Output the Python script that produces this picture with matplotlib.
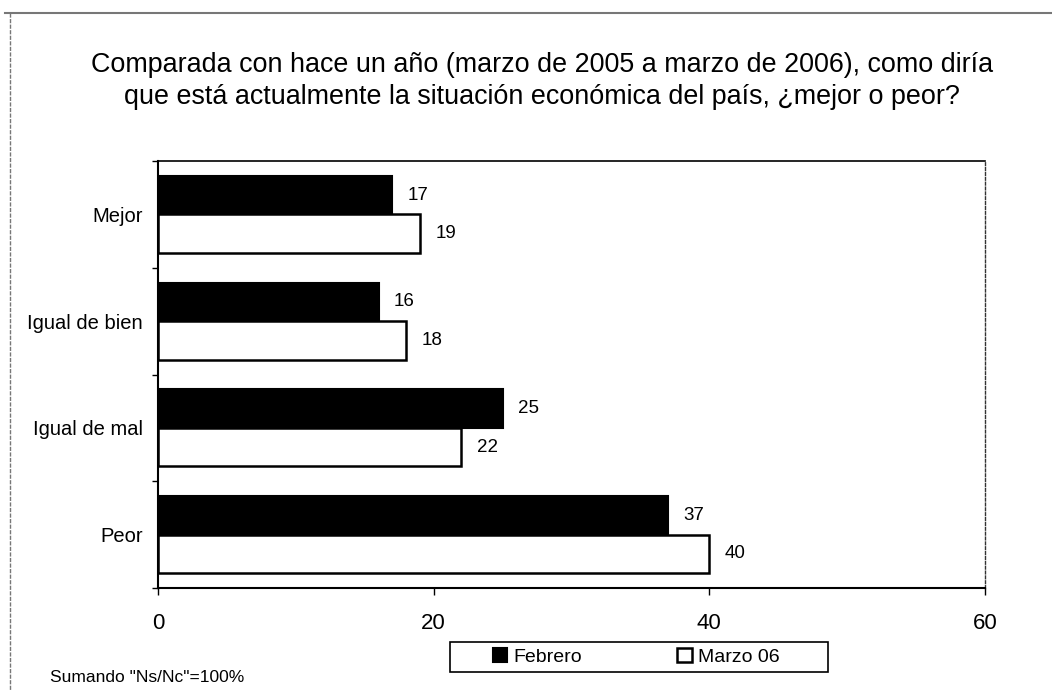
import matplotlib
matplotlib.use("Agg")
import matplotlib.pyplot as plt
from matplotlib.patches import Rectangle
from matplotlib.lines import Line2D
import numpy as np

plt.rcParams['font.family'] = ['Liberation Sans', 'DejaVu Sans']

categories = ["Mejor", "Igual de bien", "Igual de mal", "Peor"]
febrero = [17, 16, 25, 37]
marzo = [19, 18, 22, 40]
series_names = ["Febrero", "Marzo 06"]
title = ("Comparada con hace un año (marzo de 2005 a marzo de 2006), como diría\n"
         "que está actualmente la situación económica del país, ¿mejor o peor?")
note = 'Sumando "Ns/Nc"=100%'

W, H = 1052, 690
fig = plt.figure(figsize=(W/100, H/100), dpi=100)

def fx(px):
    return px / W

def fy(py):
    return 1 - py / H

# scanned page frame: top and left edges only
fig.lines.append(Line2D([fx(5), 1], [fy(13), fy(13)], transform=fig.transFigure,
                        color='#777777', lw=1.5))
fig.lines.append(Line2D([fx(10), fx(10)], [fy(13), 0], transform=fig.transFigure,
                        color='#777777', lw=1.0, ls=(0, (3, 1))))

ax = fig.add_axes([fx(158), fy(588), fx(985 - 158), (588 - 161) / H])

y = np.arange(len(categories))
h = 0.36
b1 = ax.barh(y - h/2, febrero, height=h, color='black', edgecolor='black', lw=1.5)
b2 = ax.barh(y + h/2, marzo, height=h, color='white', edgecolor='black', lw=1.8)

for bars in (b1, b2):
    for rect in bars:
        w = rect.get_width()
        ax.annotate(f"{w:.0f}", (w, rect.get_y() + rect.get_height()/2),
                    xytext=(11, 0), textcoords='offset points',
                    va='center', ha='left', fontsize=13.5)

ax.set_xlim(0, 60)
ax.set_ylim(len(categories) - 0.5, -0.5)
ax.set_xticks([0, 20, 40, 60])
ax.tick_params(axis='x', labelsize=16, length=5, width=1, pad=13)
ax.set_yticks(y)
ax.set_yticklabels(categories, fontsize=14.5)
ax.tick_params(axis='y', length=0, pad=11)
ax.set_yticks(np.arange(len(categories) + 1) - 0.5, minor=True)
ax.tick_params(axis='y', which='minor', length=4, width=1)

ax.spines['left'].set_linewidth(1.5)
ax.spines['bottom'].set_linewidth(1.5)
ax.spines['top'].set_linewidth(1.2)
ax.spines['right'].set_linewidth(1.0)
ax.spines['right'].set_linestyle((0, (2, 1.5)))
ax.spines['right'].set_color('#333333')

fig.text(0.515, fy(81), title, ha='center', va='center', fontsize=19.4,
         linespacing=1.32)

# legend box as in the original
fig.patches.append(Rectangle((fx(450), fy(672)), fx(828 - 450), (672 - 642) / H,
                             transform=fig.transFigure, fill=False,
                             edgecolor='black', lw=1.2))
leg = fig.legend([b1, b2], series_names, loc='center',
                 bbox_to_anchor=(fx(636), fy(657)), ncol=2,
                 fontsize=14, frameon=False,
                 handlelength=0.75, handleheight=0.75, handletextpad=0.3,
                 columnspacing=4.9, borderpad=0.2)

fig.text(fx(50), fy(678), note, ha='left', va='center', fontsize=12.5)

fig.savefig("out.png", dpi=100)
